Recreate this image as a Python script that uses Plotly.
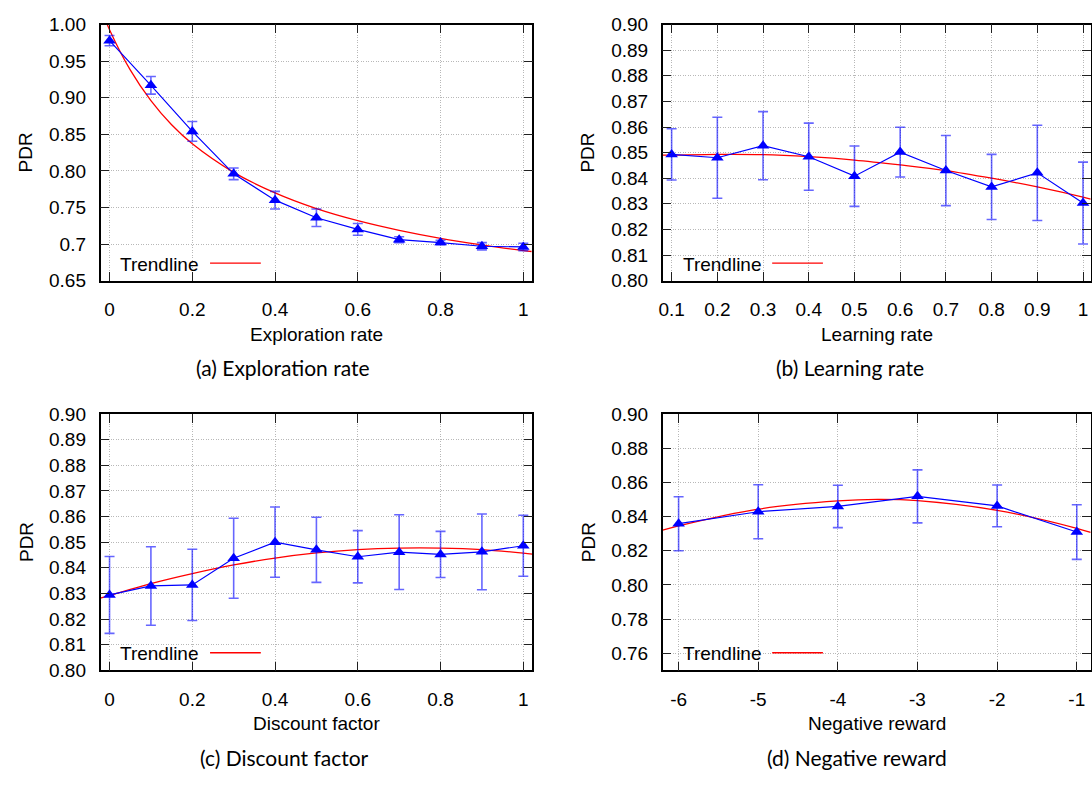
import plotly.graph_objects as go

# ---------------- data ----------------
x_a = [0.0, 0.1, 0.2, 0.3, 0.4, 0.5, 0.6, 0.7, 0.8, 0.9, 1.0]
pdr_a = [0.978, 0.917, 0.854, 0.796, 0.760, 0.736, 0.720, 0.706, 0.702, 0.697, 0.696]
err_a = [0.007, 0.012, 0.0135, 0.008, 0.012, 0.012, 0.008, 0.004, 0.003, 0.005, 0.005]
trend_x_a = [-0.02, 0.0, 0.05, 0.1, 0.15, 0.2, 0.3, 0.4, 0.5, 0.6, 0.7, 0.8, 0.9, 1.0, 1.02]
trend_y_a = [1.021, 0.993, 0.938, 0.896, 0.863, 0.837, 0.798, 0.770, 0.7485, 0.732, 0.7188, 0.7079, 0.6989, 0.691, 0.6898]

x_b = [0.1, 0.2, 0.3, 0.4, 0.5, 0.6, 0.7, 0.8, 0.9, 1.0]
pdr_b = [0.8493, 0.8480, 0.8527, 0.8484, 0.8408, 0.8502, 0.8430, 0.8366, 0.8421, 0.8303]
err_b = [0.0100, 0.0158, 0.0133, 0.0131, 0.0118, 0.0097, 0.0137, 0.0127, 0.0186, 0.0160]
trend_x_b = [0.08, 0.1, 0.2, 0.3, 0.4, 0.5, 0.6, 0.7, 0.8, 0.9, 1.0, 1.017]
trend_y_b = [0.8490, 0.8490, 0.8493, 0.8492, 0.8484, 0.8471, 0.8452, 0.8430, 0.8400, 0.8366, 0.8326, 0.8318]

x_c = [0.0, 0.1, 0.2, 0.3, 0.4, 0.5, 0.6, 0.7, 0.8, 0.9, 1.0]
pdr_c = [0.8294, 0.8329, 0.8333, 0.8437, 0.8500, 0.8470, 0.8443, 0.8461, 0.8452, 0.8462, 0.8486]
err_c = [0.0150, 0.0153, 0.0139, 0.0156, 0.0137, 0.0127, 0.0102, 0.0146, 0.0090, 0.0148, 0.0119]
trend_x_c = [-0.022, 0.0, 0.1, 0.2, 0.3, 0.4, 0.5, 0.6, 0.7, 0.8, 0.9, 1.0, 1.022]
trend_y_c = [0.8282, 0.8292, 0.8338, 0.8377, 0.8411, 0.8438, 0.8458, 0.8471, 0.8477, 0.8477, 0.8471, 0.8457, 0.8453]

x_d = [-6, -5, -4, -3, -2, -1]
pdr_d = [0.8358, 0.8428, 0.8459, 0.8518, 0.8462, 0.8309]
err_d = [0.0158, 0.0158, 0.0124, 0.0155, 0.0122, 0.0160]
trend_x_d = [-6.2, -6, -5, -4, -3.5, -3, -2, -1, -0.825]
trend_y_d = [0.8320, 0.8345, 0.8443, 0.8491, 0.8500, 0.8493, 0.8436, 0.8331, 0.8307]

ytick_a = [0.65, 0.70, 0.75, 0.80, 0.85, 0.90, 0.95, 1.00]
ytext_a = ["0.65", "0.7", "0.75", "0.80", "0.85", "0.90", "0.95", "1.00"]
ytick_bc = [0.80, 0.81, 0.82, 0.83, 0.84, 0.85, 0.86, 0.87, 0.88, 0.89, 0.90]
ytext_bc = ["0.80", "0.81", "0.82", "0.83", "0.84", "0.85", "0.86", "0.87", "0.88", "0.89", "0.90"]
ytick_d = [0.76, 0.78, 0.80, 0.82, 0.84, 0.86, 0.88, 0.90]
ytext_d = ["0.76", "0.78", "0.80", "0.82", "0.84", "0.86", "0.88", "0.90"]
xtick_ac = [0, 0.2, 0.4, 0.6, 0.8, 1]
xtext_ac = ["0", "0.2", "0.4", "0.6", "0.8", "1"]
xtick_b = [0.1, 0.2, 0.3, 0.4, 0.5, 0.6, 0.7, 0.8, 0.9, 1.0]
xtext_b = ["0.1", "0.2", "0.3", "0.4", "0.5", "0.6", "0.7", "0.8", "0.9", "1"]
xtick_d = [-6, -5, -4, -3, -2, -1]
xtext_d = ["-6", "-5", "-4", "-3", "-2", "-1"]

x_titles = ["Exploration rate", "Learning rate", "Discount factor", "Negative reward"]
captions = ["(a) Exploration rate", "(b) Learning rate", "(c) Discount factor", "(d) Negative reward"]

# ---------------- layout geometry (pixels) ----------------
W, H = 1092, 791
def px(x):
    return x / W
def py(y):
    return 1 - y / H

frames = [  # left, right, top, bottom
    (97.0, 530.7, 15.0, 278.0),
    (661.7, 1091.7, 15.0, 278.0),
    (97.0, 530.7, 415.0, 678.3),
    (661.7, 1091.7, 415.0, 678.3),
]
xranges = [[-0.0217, 1.0217], [0.0804, 1.0168], [-0.0217, 1.0217], [-6.2, -0.825]]
yranges = [[0.65, 1.00], [0.80, 0.90], [0.80, 0.90], [0.75, 0.90]]
yticks = [(ytick_a, ytext_a), (ytick_bc, ytext_bc), (ytick_bc, ytext_bc), (ytick_d, ytext_d)]
xticks = [(xtick_ac, xtext_ac), (xtick_b, xtext_b), (xtick_ac, xtext_ac), (xtick_d, xtext_d)]
cap_pos = [(280, 367), (850, 367), (282, 768), (857, 768)]

series = [
    (x_a, pdr_a, err_a, trend_x_a, trend_y_a),
    (x_b, pdr_b, err_b, trend_x_b, trend_y_b),
    (x_c, pdr_c, err_c, trend_x_c, trend_y_c),
    (x_d, pdr_d, err_d, trend_x_d, trend_y_d),
]

FONT = "Liberation Sans, Arial, sans-serif"
CAPFONT = "Lato, sans-serif"
BLUE = "#0000ff"
RED = "#ff0000"

fig = go.Figure()
layout = dict(
    width=W, height=H,
    margin=dict(l=0, r=0, t=0, b=0),
    paper_bgcolor="white", plot_bgcolor="white",
    showlegend=False,
    font=dict(family=FONT, size=19, color="black"),
)
shapes = []
annotations = []

for i, (fr, (xs, ys, es, tx, ty)) in enumerate(zip(frames, series)):
    n = "" if i == 0 else str(i + 1)
    xa, ya = "x" + n, "y" + n
    L, R, T, B = fr
    fig.add_trace(go.Scatter(
        x=tx, y=ty, xaxis=xa, yaxis=ya, mode="lines",
        line=dict(color=RED, width=1.3, shape="spline", smoothing=1.0),
        hoverinfo="skip",
    ))
    fig.add_trace(go.Scatter(
        x=xs, y=ys, xaxis=xa, yaxis=ya, mode="lines+markers",
        line=dict(color=BLUE, width=1.2),
        marker=dict(symbol="triangle-up", size=11, color=BLUE),
        error_y=dict(type="data", array=es, visible=True,
                     color="rgba(0,0,255,0.6)", thickness=1.6, width=5),
    ))
    common = dict(
        showline=True, linecolor="black", linewidth=1.5, mirror="allticks",
        ticks="inside", ticklen=9, tickwidth=1, tickcolor="#202020",
        showgrid=True, gridcolor="#b8b8b8", gridwidth=1, griddash="1px,1.5px",
        zeroline=False, tickfont=dict(family=FONT, size=19, color="black"),
    )
    layout["xaxis" + n] = dict(
        domain=[px(L), px(R)], anchor=ya, range=xranges[i],
        tickmode="array", tickvals=xticks[i][0], ticktext=xticks[i][1],
        ticklabelstandoff=11, **common,
    )
    layout["yaxis" + n] = dict(
        domain=[py(B), py(T)], anchor=xa, range=yranges[i],
        tickmode="array", tickvals=yticks[i][0], ticktext=yticks[i][1],
        ticklabelstandoff=9, **common,
    )
    # legend key box (white, covers grid) and its entry
    shapes.append(dict(type="rect", xref="paper", yref="paper", layer="between",
                       x0=px(L + 1), x1=px(L + 174), y0=py(B - 1), y1=py(B - 33),
                       line=dict(width=0), fillcolor="white"))
    shapes.append(dict(type="line", xref="paper", yref="paper", layer="above",
                       x0=px(L + 110), x1=px(L + 161), y0=py(B - 18), y1=py(B - 18),
                       line=dict(color=RED, width=1.3)))
    annotations.append(dict(text="Trendline", xref="paper", yref="paper",
                            x=px(L + 18), y=py(B - 17), xanchor="left", yanchor="middle",
                            showarrow=False, font=dict(family=FONT, size=19, color="black")))
    # axis titles
    annotations.append(dict(text=x_titles[i], xref="paper", yref="paper",
                            x=px((L + R) / 2), y=py(B + 55), xanchor="center", yanchor="middle",
                            showarrow=False, font=dict(family=FONT, size=19, color="black")))
    annotations.append(dict(text="PDR", xref="paper", yref="paper", textangle=-90,
                            x=px(L - 75), y=py((T + B) / 2), xanchor="center", yanchor="middle",
                            showarrow=False, font=dict(family=FONT, size=19, color="black")))
    # caption
    cx, cy = cap_pos[i]
    annotations.append(dict(text=captions[i], xref="paper", yref="paper",
                            x=px(cx), y=py(cy), xanchor="center", yanchor="middle",
                            showarrow=False, font=dict(family=CAPFONT, size=21, color="black")))

layout["shapes"] = shapes
layout["annotations"] = annotations
fig.update_layout(**layout)
fig.write_html("out.html")
